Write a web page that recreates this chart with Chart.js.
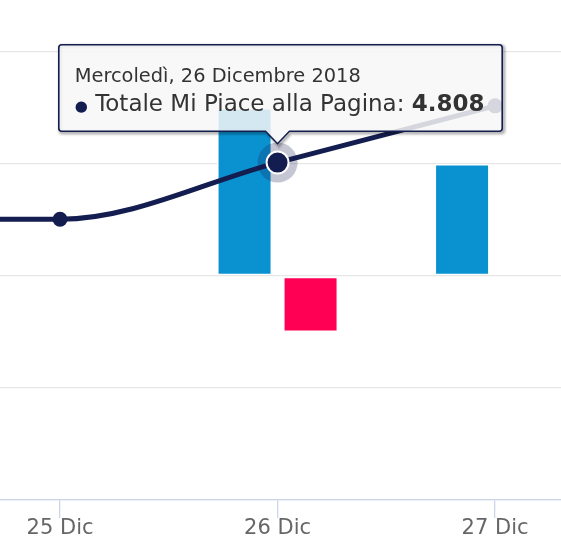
<!DOCTYPE html>
<html>
<head>
<meta charset="utf-8">
<script src="https://cdn.jsdelivr.net/npm/chart.js@4.4.1/dist/chart.umd.min.js"></script>
<style>
html,body{margin:0;padding:0;background:#fff;}
#wrap{position:relative;width:561px;height:556px;overflow:hidden;}
#tip{position:absolute;display:none;pointer-events:none;font-family:"DejaVu Sans",sans-serif;color:#333;white-space:nowrap;}
#tip svg{position:absolute;left:0;top:0;overflow:visible;}
#tip .txt{position:relative;padding:21px 18.5px 12.4px 16.7px;}
#tip .ttl{font-size:19.4px;line-height:22.6px;}
#tip .bdy{font-size:23px;line-height:26.4px;margin-top:2.6px;}
#tip .dot{font-size:15px;color:#141d4f;}
#tip b{font-weight:bold;}
</style>
</head>
<body>
<div id="wrap">
  <canvas id="c"></canvas>
  <div id="tip">
    <svg id="tipsvg">
      <g id="tipshadow" fill="none" stroke="#000" transform="translate(1.5,1.5)">
        <path stroke-width="7" stroke-opacity="0.05"></path>
        <path stroke-width="4.5" stroke-opacity="0.1"></path>
        <path stroke-width="2" stroke-opacity="0.15"></path>
      </g>
      <path id="tippath" fill="rgba(247,247,247,0.85)" stroke="#141d4f" stroke-width="1.6"></path>
    </svg>
    <div class="txt"><div class="ttl" id="tipttl"></div><div class="bdy"><span class="dot">●</span> <span id="tipname"></span>: <b id="tipval"></b></div></div>
  </div>
</div>
<script>
// ---- data ----
const dayValues = [24, 25, 26, 27];
const tickLabels = ['24 Dic', '25 Dic', '26 Dic', '27 Dic'];
const tooltipDates = ['Lunedì, 24 Dicembre 2018', 'Martedì, 25 Dicembre 2018', 'Mercoledì, 26 Dicembre 2018', 'Giovedì, 27 Dicembre 2018'];
const totalLikes = [4806, 4806, 4808, 4810];
const newLikes = [0, 0, 3, 2];
const lostLikes = [0, 0, -1, 0];
const seriesNames = ['Totale Mi Piace alla Pagina', 'Nuovi Mi Piace', 'Mi Piace persi'];
const hoveredDay = 2;

const NAVY = '#141d4f';
const BLUE = '#0a92d0';
const RED = '#ff0055';

const pts = arr => dayValues.map((d, i) => ({x: d, y: arr[i]}));
const fmt = v => String(v).replace(/\B(?=(\d{3})+(?!\d))/g, '.');

function externalTip({chart, tooltip}) {
  const el = document.getElementById('tip');
  if (!tooltip.opacity || !tooltip.dataPoints || !tooltip.dataPoints.length) { el.style.display = 'none'; return; }
  const dp = tooltip.dataPoints[0];
  document.getElementById('tipttl').textContent = tooltip.title[0];
  document.getElementById('tipname').textContent = dp.dataset.label;
  document.getElementById('tipval').textContent = fmt(dp.raw.y);
  el.style.display = 'block';
  const txt = el.querySelector('.txt');
  const W = txt.offsetWidth, H = txt.offsetHeight;
  const left = tooltip.caretX - W / 2 + 3;
  const top = tooltip.caretY - 31 - H;
  el.style.left = left + 'px';
  el.style.top = top + 'px';
  el.style.width = W + 'px';
  el.style.height = H + 'px';
  const svg = document.getElementById('tipsvg');
  svg.setAttribute('width', W);
  svg.setAttribute('height', H + 14);
  const cx = tooltip.caretX - left, r = 3, a = 0.8, cw = 12, ch = 12.5;
  const d = `M${a + r},${a} H${W - a - r} Q${W - a},${a} ${W - a},${a + r} V${H - a - r} Q${W - a},${H - a} ${W - a - r},${H - a} ` +
            `H${cx + cw} L${cx},${H - a + ch} L${cx - cw},${H - a} H${a + r} Q${a},${H - a} ${a},${H - a - r} V${a + r} Q${a},${a} ${a + r},${a} Z`;
  document.getElementById('tippath').setAttribute('d', d);
  document.querySelectorAll('#tipshadow path').forEach(p => p.setAttribute('d', d));
}

const haloPlugin = {
  id: 'halo',
  afterDatasetsDraw(chart) {
    const ctx = chart.ctx;
    chart.getActiveElements().forEach(a => {
      const el = chart.getDatasetMeta(a.datasetIndex).data[a.index];
      ctx.save();
      ctx.beginPath();
      ctx.arc(el.x, el.y, 20, 0, Math.PI * 2);
      ctx.arc(el.x, el.y, 12, 0, Math.PI * 2, true);
      ctx.fillStyle = 'rgba(20,29,79,0.25)';
      ctx.fill('evenodd');
      ctx.restore();
    });
  }
};

const chart = new Chart(document.getElementById('c'), {
  type: 'bar',
  data: {
    datasets: [
      {
        type: 'line', label: seriesNames[0], data: pts(totalLikes), yAxisID: 'y2', order: 0,
        borderColor: NAVY, backgroundColor: NAVY, borderWidth: 5,
        cubicInterpolationMode: 'monotone', fill: false,
        pointRadius: 7.5, pointBorderWidth: 0, pointBackgroundColor: NAVY,
        pointHoverRadius: 11, pointHoverBorderWidth: 2, pointHoverBorderColor: '#ffffff', pointHoverBackgroundColor: NAVY
      },
      {
        label: seriesNames[1], data: pts(newLikes), yAxisID: 'y', order: 1,
        backgroundColor: BLUE, borderColor: '#ffffff', borderWidth: 1.5, borderSkipped: false,
        categoryPercentage: 0.607, barPercentage: 0.833
      },
      {
        label: seriesNames[2], data: pts(lostLikes), yAxisID: 'y', order: 1,
        backgroundColor: RED, borderColor: '#ffffff', borderWidth: 1.5, borderSkipped: false,
        categoryPercentage: 0.607, barPercentage: 0.833
      }
    ]
  },
  options: {
    responsive: true, maintainAspectRatio: false, animation: false, events: [],
    layout: {autoPadding: false, padding: {top: 52, bottom: 17, left: 0, right: 0}},
    plugins: {
      legend: {display: false},
      tooltip: {
        enabled: false, external: externalTip, mode: 'nearest', intersect: false,
        callbacks: { title: items => tooltipDates[items[0].dataIndex] }
      }
    },
    scales: {
      x: {
        type: 'linear', offset: false, min: 24.724, max: 27.303,
        afterBuildTicks: s => { s.ticks = dayValues.filter(v => v >= s.min && v <= s.max).map(v => ({value: v})); },
        grid: {display: true, drawOnChartArea: false, drawTicks: true, tickLength: 18, color: '#ccd6eb', lineWidth: 1.3, offset: false},
        border: {display: true, color: '#ccd6eb', width: 1.3},
        ticks: {
          padding: 0, color: '#666666', maxRotation: 0, autoSkip: false,
          font: {family: 'DejaVu Sans', size: 21, lineHeight: 1},
          callback: v => tickLabels[dayValues.indexOf(v)]
        }
      },
      y: {
        type: 'linear', position: 'left', min: -4, max: 4,
        ticks: {display: false, stepSize: 2},
        grid: {color: '#e6e6e6', lineWidth: 1.3, drawTicks: false},
        border: {display: false}
      },
      y2: {
        type: 'linear', position: 'right', display: false, min: 4796.1, max: 4811.9
      }
    }
  },
  plugins: [haloPlugin]
});

const meta = chart.getDatasetMeta(0);
const pt = meta.data[hoveredDay];
chart.setActiveElements([{datasetIndex: 0, index: hoveredDay}]);
chart.tooltip.setActiveElements([{datasetIndex: 0, index: hoveredDay}], {x: pt.x, y: pt.y});
chart.update('none');
</script>
</body>
</html>
